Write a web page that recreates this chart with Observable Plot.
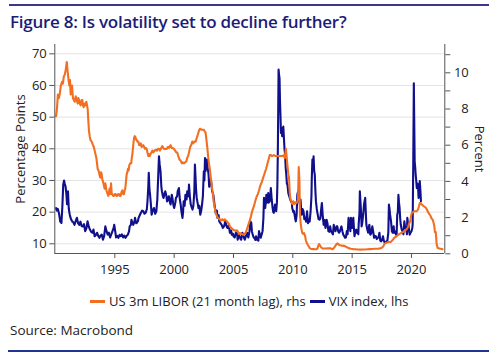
<!DOCTYPE html>
<html>
<head>
<meta charset="utf-8">
<script src="https://cdn.jsdelivr.net/npm/d3@7"></script>
<script src="https://cdn.jsdelivr.net/npm/@observablehq/plot@0.6"></script>
<style>
  html, body { margin: 0; padding: 0; background: #fff; }
  body { width: 500px; height: 358px; position: relative; overflow: hidden; font-family: "Open Sans", sans-serif; }
  .rule { position: absolute; height: 2px; }
  #title { position: absolute; left: 10px; top: 13px; font-size: 17px; line-height: 18px; letter-spacing: -0.25px; font-weight: 600; color: #1c1c78; white-space: nowrap; }
  #chart { position: absolute; left: 0; top: 0; }
  #legend { position: absolute; left: 90px; top: 293px; display: flex; align-items: center; font-size: 13px; line-height: 16px; color: #222; white-space: nowrap; }
  .sw { display: inline-block; width: 15px; height: 3px; margin-right: 4px; }
  #source { position: absolute; left: 10px; top: 322px; font-size: 13.5px; line-height: 16px; color: #222; white-space: nowrap; }
</style>
</head>
<body>
<div class="rule" style="left:9px; top:4px; width:480px; background:#3d3689;"></div>
<div id="title">Figure 8: Is volatility set to decline further?</div>
<div id="chart"></div>
<div id="legend">
  <span class="sw" style="background:#f26f21"></span><span style="margin-right:4px">US 3m LIBOR (21 month lag), rhs</span>
  <span class="sw" style="background:#10108c"></span><span>VIX index, lhs</span>
</div>
<div id="source">Source: Macrobond</div>
<div class="rule" style="left:8px; top:350px; width:481px; background:#1f3594;"></div>
<script>
// ---- Data ----
const vixYear = [1990.05,1990.1,1990.2,1990.3,1990.4,1990.5,1990.58,1990.65,1990.72,1990.78,1990.85,1990.92,1990.97,1991.05,1991.12,1991.2,1991.3,1991.4,1991.5,1991.6,1991.7,1991.8,1991.9,1992.0,1992.1,1992.2,1992.3,1992.4,1992.5,1992.6,1992.7,1992.8,1992.9,1993.0,1993.1,1993.2,1993.3,1993.4,1993.5,1993.6,1993.7,1993.8,1993.9,1994.0,1994.1,1994.2,1994.3,1994.4,1994.5,1994.6,1994.7,1994.8,1994.9,1994.95,1995.05,1995.1,1995.2,1995.3,1995.4,1995.5,1995.6,1995.7,1995.8,1995.9,1996.0,1996.1,1996.2,1996.25,1996.35,1996.4,1996.5,1996.55,1996.65,1996.7,1996.8,1996.85,1996.95,1997.0,1997.1,1997.2,1997.3,1997.4,1997.5,1997.6,1997.7,1997.75,1997.82,1997.86,1997.92,1997.97,1998.05,1998.1,1998.2,1998.3,1998.4,1998.5,1998.58,1998.65,1998.72,1998.78,1998.85,1998.92,1998.97,1999.05,1999.1,1999.2,1999.25,1999.35,1999.4,1999.5,1999.55,1999.65,1999.7,1999.8,1999.85,1999.95,2000.0,2000.1,2000.15,2000.25,2000.3,2000.4,2000.48,2000.55,2000.62,2000.7,2000.75,2000.8,2000.88,2000.95,2001.05,2001.1,2001.2,2001.25,2001.32,2001.4,2001.48,2001.55,2001.62,2001.7,2001.75,2001.8,2001.85,2001.9,2001.97,2002.05,2002.12,2002.2,2002.28,2002.35,2002.42,2002.5,2002.55,2002.6,2002.65,2002.7,2002.76,2002.82,2002.9,2002.95,2003.0,2003.1,2003.2,2003.3,2003.4,2003.5,2003.6,2003.65,2003.75,2003.8,2003.9,2004.0,2004.1,2004.2,2004.3,2004.35,2004.45,2004.5,2004.6,2004.7,2004.8,2004.85,2004.95,2005.0,2005.1,2005.2,2005.3,2005.35,2005.45,2005.5,2005.6,2005.65,2005.75,2005.8,2005.9,2005.95,2006.05,2006.15,2006.25,2006.35,2006.42,2006.5,2006.55,2006.62,2006.7,2006.75,2006.85,2006.9,2007.0,2007.1,2007.15,2007.22,2007.3,2007.38,2007.45,2007.52,2007.57,2007.62,2007.67,2007.72,2007.77,2007.82,2007.87,2007.93,2007.97,2008.05,2008.1,2008.15,2008.22,2008.3,2008.35,2008.4,2008.45,2008.5,2008.55,2008.6,2008.66,2008.7,2008.74,2008.77,2008.8,2008.85,2008.88,2008.92,2008.95,2009.0,2009.05,2009.1,2009.15,2009.2,2009.25,2009.3,2009.35,2009.4,2009.45,2009.5,2009.55,2009.62,2009.7,2009.78,2009.85,2009.92,2009.95,2010.05,2010.1,2010.2,2010.25,2010.32,2010.38,2010.45,2010.52,2010.6,2010.65,2010.7,2010.75,2010.82,2010.9,2010.97,2011.05,2011.12,2011.2,2011.28,2011.35,2011.42,2011.5,2011.57,2011.6,2011.65,2011.7,2011.75,2011.8,2011.85,2011.9,2011.95,2012.02,2012.1,2012.17,2012.25,2012.32,2012.4,2012.45,2012.52,2012.6,2012.68,2012.75,2012.8,2012.85,2012.92,2013.0,2013.07,2013.15,2013.22,2013.3,2013.38,2013.45,2013.52,2013.6,2013.68,2013.75,2013.82,2013.9,2013.97,2014.05,2014.1,2014.18,2014.25,2014.32,2014.4,2014.48,2014.55,2014.62,2014.7,2014.75,2014.8,2014.85,2014.9,2014.95,2015.0,2015.05,2015.1,2015.15,2015.2,2015.28,2015.35,2015.4,2015.45,2015.52,2015.55,2015.62,2015.65,2015.7,2015.75,2015.8,2015.85,2015.9,2015.95,2016.0,2016.1,2016.15,2016.2,2016.28,2016.35,2016.4,2016.45,2016.52,2016.55,2016.62,2016.7,2016.77,2016.85,2016.92,2017.0,2017.07,2017.15,2017.22,2017.3,2017.37,2017.45,2017.52,2017.6,2017.67,2017.75,2017.82,2017.9,2017.97,2018.05,2018.1,2018.15,2018.2,2018.28,2018.35,2018.42,2018.5,2018.55,2018.6,2018.7,2018.75,2018.8,2018.85,2018.9,2018.95,2019.0,2019.05,2019.1,2019.18,2019.25,2019.32,2019.4,2019.47,2019.55,2019.62,2019.65,2019.7,2019.75,2019.8,2019.85,2019.92,2020.0,2020.07,2020.1,2020.15,2020.2,2020.23,2020.27,2020.32,2020.35,2020.4,2020.45,2020.5,2020.55,2020.6,2020.65,2020.7,2020.75,2020.8];
const vixValue = [21.3,20.5,21.0,19.5,17.0,16.6,22.0,28.7,30.0,29.0,28.0,25.5,22.5,26.6,21.0,19.2,17.8,17.1,16.8,16.0,17.2,18.2,16.5,16.0,17.0,15.6,15.5,16.2,14.0,14.8,17.1,15.5,14.5,13.8,13.5,14.5,12.4,12.8,13.5,12.5,11.9,12.6,12.9,11.3,12.5,15.5,14.0,12.9,13.5,12.0,13.0,14.0,15.0,16.0,13.5,12.0,12.5,11.9,12.8,12.4,13.0,12.0,12.6,11.9,12.5,12.9,14.0,15.5,16.0,17.6,16.5,16.0,17.0,18.2,16.5,16.6,17.2,18.2,19.0,19.8,20.5,20.3,19.5,19.8,21.0,23.4,28.0,32.4,27.0,25.5,22.0,19.2,20.5,21.3,19.5,20.3,24.0,30.8,37.6,35.0,32.9,28.0,26.6,25.0,24.5,26.0,26.6,25.0,23.4,24.0,25.0,23.0,22.4,25.5,24.5,22.0,21.3,23.0,24.5,25.0,26.6,27.6,24.0,22.4,20.0,18.2,20.0,23.4,22.0,25.5,24.0,26.6,25.0,28.7,25.0,22.4,21.5,20.8,22.0,26.6,35.0,31.0,27.0,24.5,23.0,21.3,22.0,19.2,20.5,22.4,25.0,32.9,30.0,37.1,33.0,35.0,36.6,34.0,31.9,28.0,29.8,30.3,26.6,25.5,22.4,19.8,20.5,18.2,19.0,17.1,16.5,16.0,15.0,15.5,17.0,16.6,15.2,15.0,15.8,13.5,14.2,12.9,13.2,12.4,12.0,13.5,14.0,11.3,12.8,12.4,11.5,11.3,13.5,12.9,11.8,11.3,12.4,13.5,12.0,14.0,17.1,16.6,14.0,12.9,12.0,11.9,11.2,12.4,11.3,11.0,14.0,13.0,11.9,13.0,14.0,18.0,24.5,22.0,21.3,23.0,25.5,23.0,23.4,26.0,23.0,23.4,25.0,27.6,24.0,21.3,20.0,19.8,21.0,22.4,21.0,20.3,23.0,28.7,40.0,51.8,65.0,63.0,62.3,55.0,51.8,45.0,46.6,44.0,45.5,47.0,43.4,40.0,38.2,34.0,31.9,29.0,28.7,26.0,25.0,24.0,23.4,23.0,21.3,20.0,20.3,18.0,17.1,19.0,25.5,26.6,24.0,22.4,24.0,21.0,19.2,21.0,20.3,17.8,18.2,17.0,20.3,16.5,17.6,17.0,20.3,25.0,30.8,36.6,34.0,37.6,33.0,31.9,27.0,23.4,21.0,19.2,17.8,17.6,18.0,21.3,22.9,19.0,16.0,17.5,15.0,16.0,17.6,16.5,14.0,13.8,15.5,14.0,13.5,13.0,16.0,14.5,14.0,15.5,15.5,14.0,13.5,14.0,15.0,15.5,14.0,12.9,12.5,11.9,12.0,14.0,13.0,18.2,16.0,15.5,14.0,18.2,17.0,15.0,17.0,18.2,15.0,12.4,14.0,14.5,13.5,14.0,13.0,16.0,20.0,26.6,23.4,20.0,15.5,16.5,18.2,20.0,22.4,24.5,20.0,16.0,14.5,13.5,15.0,16.0,13.0,12.9,13.5,15.5,14.0,11.9,12.5,12.4,11.5,11.9,12.0,13.5,11.0,10.8,11.2,12.4,11.0,10.3,10.5,10.8,11.0,13.5,22.4,21.0,19.2,17.0,14.0,13.5,15.5,13.5,14.0,12.9,13.0,19.2,20.0,25.5,23.0,21.3,18.0,16.0,14.5,14.0,13.0,17.1,15.0,15.0,13.0,18.2,17.0,16.0,14.0,12.9,13.5,14.0,15.0,16.0,35.0,60.7,50.0,36.0,34.0,31.9,30.0,27.6,29.0,28.7,24.5,26.0,29.8,27.0,23.4];

const liborYear = [1990.05,1990.12,1990.2,1990.28,1990.35,1990.45,1990.55,1990.62,1990.7,1990.78,1990.87,1990.95,1991.02,1991.1,1991.17,1991.22,1991.28,1991.35,1991.39,1991.47,1991.55,1991.62,1991.7,1991.76,1991.83,1991.87,1991.93,1991.98,1992.05,1992.12,1992.2,1992.26,1992.32,1992.37,1992.46,1992.53,1992.6,1992.66,1992.71,1992.77,1992.82,1992.88,1992.94,1993.05,1993.16,1993.23,1993.3,1993.37,1993.44,1993.5,1993.55,1993.62,1993.67,1993.73,1993.78,1993.84,1993.89,1993.95,1994.0,1994.07,1994.14,1994.19,1994.23,1994.29,1994.34,1994.4,1994.45,1994.5,1994.56,1994.62,1994.68,1994.74,1994.79,1994.86,1994.93,1995.0,1995.07,1995.14,1995.21,1995.28,1995.35,1995.42,1995.49,1995.56,1995.63,1995.7,1995.77,1995.82,1995.88,1995.94,1996.0,1996.05,1996.11,1996.16,1996.22,1996.3,1996.38,1996.43,1996.48,1996.55,1996.62,1996.68,1996.74,1996.79,1996.84,1996.9,1996.98,1997.05,1997.12,1997.19,1997.26,1997.33,1997.4,1997.47,1997.54,1997.61,1997.68,1997.75,1997.82,1997.88,1997.94,1998.0,1998.08,1998.16,1998.25,1998.35,1998.44,1998.55,1998.63,1998.72,1998.8,1998.88,1999.0,1999.08,1999.15,1999.28,1999.38,1999.47,1999.56,1999.64,1999.7,1999.78,1999.86,1999.98,2000.08,2000.18,2000.26,2000.35,2000.45,2000.55,2000.65,2000.75,2000.83,2000.92,2001.02,2001.1,2001.18,2001.25,2001.35,2001.43,2001.53,2001.6,2001.7,2001.81,2001.9,2002.0,2002.09,2002.16,2002.23,2002.3,2002.4,2002.51,2002.58,2002.65,2002.72,2002.79,2002.86,2002.93,2003.0,2003.07,2003.14,2003.2,2003.27,2003.33,2003.4,2003.46,2003.53,2003.6,2003.67,2003.75,2003.85,2003.95,2004.05,2004.15,2004.25,2004.35,2004.45,2004.55,2004.62,2004.7,2004.78,2004.86,2004.95,2005.04,2005.12,2005.2,2005.3,2005.38,2005.46,2005.55,2005.63,2005.72,2005.8,2005.88,2005.96,2006.05,2006.15,2006.25,2006.35,2006.45,2006.55,2006.65,2006.75,2006.85,2006.95,2007.05,2007.15,2007.25,2007.35,2007.45,2007.55,2007.65,2007.75,2007.85,2007.95,2008.05,2008.15,2008.25,2008.4,2008.55,2008.7,2008.85,2009.0,2009.15,2009.25,2009.32,2009.38,2009.42,2009.5,2009.56,2009.62,2009.68,2009.74,2009.8,2009.88,2009.96,2010.04,2010.12,2010.2,2010.28,2010.36,2010.44,2010.5,2010.56,2010.6,2010.66,2010.72,2010.8,2010.88,2010.95,2011.03,2011.1,2011.18,2011.26,2011.34,2011.42,2011.5,2011.6,2011.75,2011.9,2012.0,2012.08,2012.15,2012.22,2012.3,2012.4,2012.5,2012.65,2012.8,2012.95,2013.05,2013.2,2013.35,2013.5,2013.6,2013.7,2013.78,2013.88,2014.0,2014.15,2014.3,2014.45,2014.6,2014.75,2014.9,2015.1,2015.3,2015.5,2015.7,2015.9,2016.1,2016.3,2016.5,2016.7,2016.9,2017.05,2017.2,2017.35,2017.5,2017.62,2017.72,2017.85,2017.95,2018.1,2018.25,2018.4,2018.55,2018.7,2018.85,2019.0,2019.15,2019.3,2019.45,2019.6,2019.72,2019.82,2019.9,2019.97,2020.05,2020.15,2020.25,2020.35,2020.45,2020.55,2020.62,2020.7,2020.8,2020.9,2021.0,2021.1,2021.2,2021.3,2021.4,2021.5,2021.6,2021.7,2021.78,2021.85,2021.92,2021.98,2022.05,2022.12,2022.2,2022.3,2022.45,2022.62];
const liborValue = [7.6,8.0,8.8,8.6,8.8,9.3,9.5,9.4,9.8,9.9,10.2,10.6,10.1,9.6,9.3,9.6,8.8,9.0,9.3,8.6,8.5,8.4,8.7,8.6,8.4,8.3,8.6,8.5,8.3,8.2,8.5,8.5,8.2,8.1,8.3,8.2,8.4,8.2,8.0,7.3,6.8,6.5,6.3,6.2,6.0,5.9,5.7,5.5,5.3,5.0,4.7,4.6,4.5,4.3,4.2,4.5,4.4,4.1,4.0,3.8,3.6,3.9,3.8,3.5,3.4,3.3,3.2,3.4,3.6,3.3,3.9,3.3,3.3,3.2,3.2,3.3,3.3,3.2,3.2,3.3,3.3,3.2,3.2,3.4,3.5,3.3,3.3,3.5,3.6,4.0,4.4,4.5,4.7,4.6,4.9,5.0,5.0,5.3,5.5,6.0,6.4,6.5,6.45,6.3,6.3,6.2,6.2,6.0,6.0,6.1,5.9,5.95,6.0,5.9,5.8,5.85,5.8,5.6,5.4,5.5,5.4,5.5,5.6,5.7,5.6,5.7,5.75,5.7,5.8,5.8,5.7,5.8,5.95,5.85,5.8,5.8,5.8,5.9,5.85,5.95,6.0,5.85,5.85,5.8,5.7,5.6,5.6,5.4,5.2,5.15,5.0,5.05,5.0,5.05,5.1,5.3,5.4,5.6,5.9,6.0,6.2,6.1,6.2,6.2,6.4,6.6,6.8,6.9,6.9,6.85,6.85,6.85,6.75,6.7,6.3,5.9,5.4,5.0,4.7,4.3,3.9,3.6,3.3,2.9,2.6,2.4,2.2,2.1,2.0,1.95,1.9,1.85,1.9,1.85,1.9,1.85,1.8,1.7,1.65,1.5,1.45,1.4,1.35,1.3,1.3,1.25,1.3,1.2,1.1,1.15,1.1,1.1,1.05,1.05,1.1,1.2,1.4,1.6,1.8,2.0,2.3,2.5,2.7,2.95,3.15,3.3,3.5,3.75,3.9,4.1,4.3,4.5,4.7,4.95,5.2,5.45,5.45,5.4,5.45,5.4,5.4,5.4,5.4,5.4,5.45,5.3,5.6,5.8,5.2,4.8,4.4,4.2,3.4,3.0,2.9,2.75,2.9,2.75,2.85,2.8,2.85,3.0,4.8,4.0,2.2,1.7,1.4,1.15,1.1,1.15,1.0,0.75,0.6,0.5,0.42,0.32,0.28,0.27,0.26,0.25,0.25,0.3,0.45,0.54,0.45,0.35,0.3,0.29,0.29,0.3,0.3,0.3,0.25,0.35,0.45,0.55,0.58,0.5,0.47,0.45,0.44,0.4,0.35,0.3,0.28,0.26,0.25,0.24,0.23,0.24,0.24,0.25,0.26,0.27,0.28,0.28,0.28,0.3,0.33,0.4,0.55,0.6,0.62,0.65,0.65,0.75,0.88,0.95,1.03,1.1,1.15,1.2,1.3,1.35,1.5,1.7,1.8,2.1,2.3,2.3,2.35,2.35,2.35,2.45,2.6,2.8,2.78,2.7,2.65,2.6,2.55,2.45,2.3,2.2,2.1,1.95,1.9,1.75,1.55,1.2,1.2,0.55,0.33,0.3,0.28,0.25];

const xTicks = [1995, 2000, 2005, 2010, 2015, 2020];
const leftTicks = [10, 20, 30, 40, 50, 60, 70];
const rightTicks = [0, 1, 2, 3, 4, 5, 6, 7, 8, 9, 10, 11];

// ---- Build ----
const vix = vixYear.map((y, i) => ({year: y, value: vixValue[i]}));
const libor = liborYear.map((y, i) => ({year: y, value: liborValue[i]}));

const xDomain = [1989.94, 2022.81];
const yDomain = [6.94, 72.94];
// right-hand scale (percent) expressed on the left-hand scale
const toL = r => 6.842 + 5.716 * r;
const fromL = l => (l - 6.842) / 5.716;

const navy = "#10108c";
const orange = "#f26f21";
const axisColor = "#555";

const chart = Plot.plot({
  width: 500,
  height: 285,
  marginTop: 44,
  marginBottom: 32,
  marginLeft: 54.3,
  marginRight: 55.7,
  style: {fontFamily: "Open Sans", fontSize: "13px", color: "#222", background: "transparent"},
  x: {domain: xDomain},
  y: {domain: yDomain},
  marks: [
    Plot.gridY(leftTicks, {stroke: "#e4e4e4", strokeOpacity: 1}),
    Plot.line(vix, {x: "year", y: "value", stroke: navy, strokeWidth: 2.1}),
    Plot.line(libor, {x: "year", y: d => toL(d.value), stroke: orange, strokeWidth: 2.1}),
    Plot.ruleX([xDomain[0], xDomain[1]], {stroke: axisColor}),
    Plot.ruleY([yDomain[0]], {stroke: axisColor}),
    Plot.axisX(xTicks, {tickSize: 5, tickPadding: 6, stroke: axisColor, tickFormat: d => String(d), label: null}),
    Plot.axisY(leftTicks, {anchor: "left", tickSize: 5, tickPadding: 3, stroke: axisColor, label: null}),
    Plot.axisY(rightTicks.map(toL), {
      anchor: "right", tickSize: 5, tickPadding: 19, textAnchor: "end", stroke: axisColor, label: null,
      tickFormat: d => { const r = Math.round(fromL(d)); return r % 2 === 0 ? String(r) : ""; }
    }),
    Plot.text(["Percentage Points"], {text: d => d, frameAnchor: "left", textAnchor: "middle", dx: -34, rotate: -90, fontSize: 13, fill: "#222"}),
    Plot.text(["Percent"], {text: d => d, frameAnchor: "right", textAnchor: "middle", dx: 34, rotate: 90, fontSize: 13, fill: "#222"})
  ]
});
document.getElementById("chart").appendChild(chart);
</script>
</body>
</html>
